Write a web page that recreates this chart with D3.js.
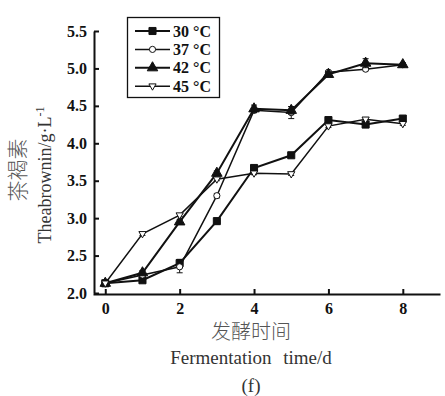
<!DOCTYPE html>
<html>
<head>
<meta charset="utf-8">
<script src="https://cdn.jsdelivr.net/npm/d3@7"></script>
<style>
  body { margin: 0; background: #fff; }
  svg { display: block; }
  .tick-label { font-family: "Liberation Serif", "Times New Roman", serif; font-weight: bold; font-size: 16px; fill: #111; }
</style>
</head>
<body>
<div id="chart"></div>
<script>
'use strict';

// fermentation days and theabrownin (g/L) for each temperature
var days = [0, 1, 2, 3, 4, 5, 6, 7, 8];
var t30 = [2.13, 2.17, 2.40, 2.96, 3.67, 3.84, 4.31, 4.25, 4.33];
var t37 = [2.13, 2.24, 2.35, 3.30, 4.44, 4.41, 4.95, 4.99, 5.05];
var t42 = [2.13, 2.27, 2.95, 3.60, 4.46, 4.44, 4.92, 5.07, 5.05];
var t45 = [2.13, 2.79, 3.04, 3.52, 3.60, 3.59, 4.23, 4.32, 4.26];

// error bars (sd)
var e30 = [0.02, 0.02, 0.05, 0.04, 0.02, 0.02, 0.03, 0.02, 0.03];
var e37 = [0.02, 0.02, 0.08, 0.03, 0.03, 0.08, 0.02, 0.02, 0.02];
var e42 = [0.02, 0.03, 0.03, 0.03, 0.05, 0.05, 0.02, 0.06, 0.02];
var e45 = [0.04, 0.02, 0.02, 0.02, 0.02, 0.02, 0.02, 0.02, 0.02];

var seriesNames = ['30 \u00b0C', '37 \u00b0C', '42 \u00b0C', '45 \u00b0C'];
var xTicks = [0, 2, 4, 6, 8];
var yTicks = [2.0, 2.5, 3.0, 3.5, 4.0, 4.5, 5.0, 5.5];

var width = 445, height = 396;
var ink = '#111';

var svg = d3.select('#chart').append('svg')
    .attr('width', width)
    .attr('height', height);

var x = d3.scaleLinear().domain([-0.33, 9]).range([93, 440]);
var y = d3.scaleLinear().domain([2.0, 5.5]).range([293, 31]);

// axes, ticks pointing inward
var xAxis = svg.append('g')
    .attr('transform', 'translate(0,294)')
    .call(d3.axisBottom(x).tickValues(xTicks).tickSize(-5).tickSizeOuter(0).tickPadding(9));

var yAxis = svg.append('g')
    .attr('transform', 'translate(94,0)')
    .call(d3.axisLeft(y).tickValues(yTicks).tickSize(-5).tickSizeOuter(0).tickPadding(7)
        .tickFormat(d3.format('.1f')));

[xAxis, yAxis].forEach(function (g) {
    g.select('.domain').attr('stroke', ink).attr('stroke-width', 2);
    g.selectAll('.tick line').attr('stroke', ink).attr('stroke-width', 2);
    g.selectAll('.tick text').attr('class', 'tick-label').attr('fill', ink);
});

var series = [
    { name: seriesNames[0], values: t30, errs: e30, marker: 'square', filled: true, lw: 2 },
    { name: seriesNames[1], values: t37, errs: e37, marker: 'circle', filled: false, lw: 1.5 },
    { name: seriesNames[2], values: t42, errs: e42, marker: 'triangle', filled: true, lw: 2 },
    { name: seriesNames[3], values: t45, errs: e45, marker: 'down', filled: false, lw: 1.5 }
];

function markerPath(type) {
    if (type === 'square') return d3.symbol().type(d3.symbolSquare).size(50)();
    if (type === 'circle') return d3.symbol().type(d3.symbolCircle).size(30)();
    if (type === 'triangle') return d3.symbol().type(d3.symbolTriangle).size(48)();
    return 'M-3.6,-2.3L3.6,-2.3L0,4Z';
}

function drawMarker(g, s, cx, cy) {
    g.append('path')
        .attr('d', markerPath(s.marker))
        .attr('transform', 'translate(' + cx + ',' + cy + ')')
        .attr('fill', s.filled ? ink : '#fff')
        .attr('stroke', ink)
        .attr('stroke-width', 1);
}

var line = d3.line()
    .x(function (d, i) { return x(days[i]); })
    .y(function (d) { return y(d); });

series.forEach(function (s) {
    var g = svg.append('g');

    // error bars
    s.values.forEach(function (v, i) {
        var cx = x(days[i]);
        var top = y(v + s.errs[i]), bot = y(v - s.errs[i]);
        g.append('line').attr('x1', cx).attr('x2', cx).attr('y1', top).attr('y2', bot)
            .attr('stroke', ink).attr('stroke-width', 1);
        [top, bot].forEach(function (yy) {
            g.append('line').attr('x1', cx - 3).attr('x2', cx + 3).attr('y1', yy).attr('y2', yy)
                .attr('stroke', ink).attr('stroke-width', 1);
        });
    });

    g.append('path')
        .attr('d', line(s.values))
        .attr('fill', 'none')
        .attr('stroke', ink)
        .attr('stroke-width', s.lw);

    s.values.forEach(function (v, i) {
        drawMarker(g, s, x(days[i]), y(v));
    });
});

// legend
var legend = svg.append('g');
legend.append('rect')
    .attr('x', 127.5).attr('y', 17.5).attr('width', 92).attr('height', 80)
    .attr('fill', '#fff').attr('stroke', ink).attr('stroke-width', 1.3);

series.forEach(function (s, i) {
    var ly = 31 + i * 18.4;
    legend.append('line')
        .attr('x1', 135).attr('x2', 170).attr('y1', ly).attr('y2', ly)
        .attr('stroke', ink).attr('stroke-width', s.lw);
    drawMarker(legend, s, 152.5, ly);
    legend.append('text')
        .attr('x', 173).attr('y', ly + 5.5)
        .attr('font-family', '"Liberation Serif", "Times New Roman", serif')
        .attr('font-weight', 'bold')
        .attr('font-size', 16)
        .attr('fill', ink)
        .text(s.name);
});

// axis titles
svg.append('text')
    .attr('x', 251).attr('y', 339)
    .attr('text-anchor', 'middle')
    .attr('font-family', '"Noto Sans CJK SC", sans-serif')
    .attr('font-weight', 300)
    .attr('font-size', 20)
    .attr('fill', '#555')
    .text('发酵时间');

svg.append('text')
    .attr('x', 251).attr('y', 364)
    .attr('text-anchor', 'middle')
    .attr('font-family', '"Liberation Serif", "Times New Roman", serif')
    .attr('font-size', 19)
    .attr('fill', '#333')
    .attr('word-spacing', 7)
    .text('Fermentation time/d');

svg.append('text')
    .attr('x', 251).attr('y', 392)
    .attr('text-anchor', 'middle')
    .attr('font-family', '"Liberation Serif", "Times New Roman", serif')
    .attr('font-size', 19)
    .attr('fill', '#333')
    .text('(f)');

svg.append('text')
    .attr('transform', 'translate(25,170) rotate(-90)')
    .attr('text-anchor', 'middle')
    .attr('font-family', '"Noto Sans CJK SC", sans-serif')
    .attr('font-weight', 300)
    .attr('font-size', 21)
    .attr('fill', '#555')
    .text('茶褐素');

var yt = svg.append('text')
    .attr('transform', 'translate(51,175) rotate(-90)')
    .attr('text-anchor', 'middle')
    .attr('font-family', '"Liberation Serif", "Times New Roman", serif')
    .attr('font-size', 18)
    .attr('fill', '#333');
yt.append('tspan').text('Theabrownin/g\u00b7L');
yt.append('tspan').attr('dy', -7).attr('font-size', 12).text('-1');
</script>
</body>
</html>
